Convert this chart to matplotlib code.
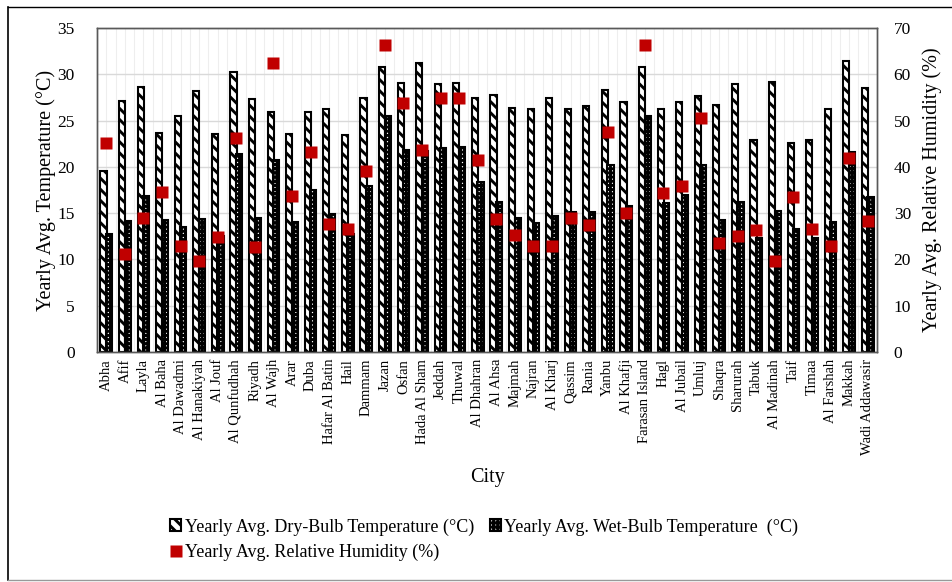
import numpy as np
import matplotlib.pyplot as plt
from matplotlib.patches import Patch
from matplotlib.lines import Line2D

plt.rcParams['font.family'] = ['Liberation Serif', 'DejaVu Serif']
plt.rcParams['hatch.linewidth'] = 2.1

# Data
cities = ['Abha', 'Afif', 'Layla', 'Al Baha', 'Al Dawadmi', 'Al Hanakiyah', 'Al Jouf',
          'Al Qunfudhah', 'Riyadh', 'Al Wajh', 'Arar', 'Duba', 'Hafar Al Batin', 'Hail',
          'Dammam', 'Jazan', 'Osfan', 'Hada Al Sham', 'Jeddah', 'Thuwal', 'Al Dhahran',
          'Al Ahsa', 'Majmah', 'Najran', 'Al Kharj', 'Qassim', 'Rania', 'Yanbu',
          'Al Khafji', 'Farasan Island', 'Hagl', 'Al Jubail', 'Umluj', 'Shaqra',
          'Sharurah', 'Tabuk', 'Al Madinah', 'Taif', 'Timaa', 'Al Farshah', 'Makkah',
          'Wadi Addawasir']
dry_bulb = [19.5, 27.1, 28.6, 23.7, 25.5, 28.2, 23.5, 30.2, 27.3, 25.9, 23.5, 25.9, 26.2, 23.4,
            27.4, 30.8, 29.1, 31.2, 29.0, 29.1, 27.4, 27.8, 26.4, 26.2, 27.4, 26.2, 26.6, 28.3,
            27.0, 30.8, 26.2, 27.0, 27.7, 26.7, 29.0, 22.9, 29.2, 22.6, 22.9, 26.3, 31.4, 28.5]
wet_bulb = [12.7, 14.1, 16.8, 14.3, 13.5, 14.4, 12.5, 21.4, 14.5, 20.7, 14.0, 17.5, 14.9, 12.7,
            17.9, 25.5, 21.8, 21.7, 22.0, 22.1, 18.4, 16.2, 14.5, 13.9, 14.7, 15.1, 15.1, 20.2,
            15.8, 25.5, 16.1, 17.0, 20.2, 14.3, 16.2, 12.3, 15.2, 13.3, 12.3, 14.0, 21.6, 16.7]
rel_humidity = [45.1, 21.2, 28.9, 34.6, 23.0, 19.7, 24.8, 46.2, 22.6, 62.5, 33.8, 43.3, 27.7, 26.6,
                39.1, 66.4, 53.8, 43.7, 54.8, 54.8, 41.5, 28.8, 25.3, 22.9, 22.9, 28.9, 27.5, 47.5,
                30.0, 66.4, 34.4, 35.9, 50.5, 23.6, 25.1, 26.4, 19.7, 33.4, 26.6, 22.9, 41.9, 28.4]

x = np.arange(len(cities))
red = '#C00000'

fig = plt.figure(figsize=(9.53, 5.82), dpi=100)
ax = fig.add_axes([0.1018, 0.3952, 0.8185, 0.5567])
ax2 = ax.twinx()

# faint vertical grid every half category, gray horizontal grid every 5 deg
for v in np.arange(-0.5, len(cities), 0.5):
    ax.axvline(v, color='#eeeeee', lw=0.8, zorder=0)
ax.set_axisbelow(True)
ax.yaxis.grid(True, color='#d9d9d9', lw=1.0)

w = 0.33
ax.bar(x - 0.15, dry_bulb, w, facecolor='white', edgecolor='black', linewidth=1.5,
       hatch='\\\\\\', zorder=2)
ax.bar(x + 0.15, wet_bulb, w, facecolor='white', edgecolor='black', linewidth=1.5,
       hatch='++++', zorder=3)
ax2.plot(x, rel_humidity, 's', color=red, ms=8, mec='none', zorder=4)

ax.set_xlim(-0.5, len(cities) - 0.5)
ax.set_ylim(0, 35)
ax2.set_ylim(0, 70)
ax.set_yticks(np.arange(0, 36, 5))
ax2.set_yticks(np.arange(0, 71, 10))
ax.set_xticks(x)
ax.set_xticklabels(cities, rotation=90, fontsize=10.5)
ax.tick_params(axis='y', length=0, labelsize=12.5, pad=16)
ax.tick_params(axis='x', length=0, pad=5)
ax2.tick_params(axis='y', length=0, labelsize=12.5, pad=12)

for a in (ax, ax2):
    for s in a.spines.values():
        s.set_color('#595959')
        s.set_linewidth(1.0)

ax.set_ylabel('Yearly Avg. Temperature (°C)', fontsize=14.5, labelpad=1)
ax2.set_ylabel('Yearly Avg. Relative Humidity (%)', fontsize=14.5, labelpad=8)
ax.set_xlabel('City', fontsize=14.5, labelpad=9)

handles = [
    Patch(facecolor='white', edgecolor='black', hatch='\\\\\\', linewidth=1.5),
    Line2D([], [], marker='s', color=red, ls='none', ms=8, mec='none'),
    Patch(facecolor='white', edgecolor='black', hatch='++++', linewidth=1.5),
]
labels = ['Yearly Avg. Dry-Bulb Temperature (°C)',
          'Yearly Avg. Relative Humidity (%)',
          'Yearly Avg. Wet-Bulb Temperature  (°C)']
fig.legend(handles, labels, ncol=2, loc='upper left', bbox_to_anchor=(0.169, 0.125),
           frameon=False, fontsize=13, handlelength=0.6, handleheight=0.6,
           handletextpad=0.2, columnspacing=0.9, labelspacing=0.45, borderpad=0)

# outer chart frame
fig.add_artist(plt.Line2D([0.0085, 0.0085], [0.003, 0.988], color='black', lw=1.2,
                          transform=fig.transFigure))
fig.add_artist(plt.Line2D([0.0085, 1.0], [0.988, 0.988], color='black', lw=1.0,
                          transform=fig.transFigure))
fig.add_artist(plt.Line2D([0.0085, 1.0], [0.003, 0.003], color='#999999', lw=1.0,
                          transform=fig.transFigure))

fig.savefig('out.png', dpi=100)
